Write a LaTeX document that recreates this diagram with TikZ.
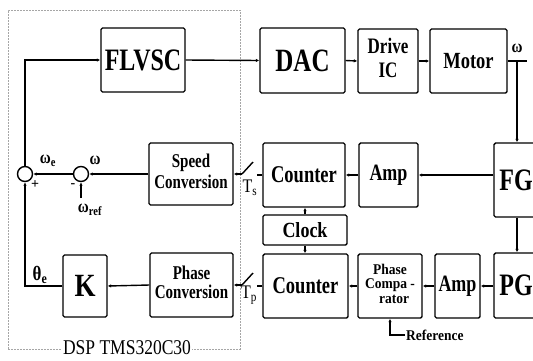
\documentclass[tikz,border=0pt]{standalone}
\usepackage{graphicx}
\usepackage{fontspec}
\setmainfont{Liberation Serif}
\usetikzlibrary{arrows.meta}
\newcommand{\vst}[2][1.3]{\scalebox{1}[#1]{#2}}
\begin{document}
\begin{tikzpicture}[x=1pt,y=-1pt,
  blk/.style={draw, line width=1.4pt, rounded corners=1.5pt, inner sep=0pt, font=\bfseries},
  ln/.style={line width=1.4pt},
  arr/.style={line width=1.4pt, -{Latex[length=3.5pt,width=3.5pt]}},
  sumj/.style={draw, line width=1.4pt, circle, minimum size=15pt, inner sep=0pt},
  lbl/.style={font=\bfseries, inner sep=0pt},
  frame/.style={gray!70, line width=0.6pt, dash pattern=on 2pt off 1pt}]
\useasboundingbox (0,0) rectangle (533,360);
\clip (0,0) rectangle (533,360);
% DSP frame
\draw[frame] (8,349) -- (8,10) -- (240,10) -- (240,349) -- cycle;
\node[fill=white, inner sep=1pt, font=\fontsize{17.5}{19}\selectfont] (dsp) at (127,348) {\vst[1.2]{DSP TMS320C30}};
% top row
\node[blk, minimum width=84pt, minimum height=64pt, font=\bfseries\fontsize{24}{26}\selectfont] (flv) at (143,60) {\vst{FLVSC}};
\node[blk, minimum width=85pt, minimum height=65pt, font=\bfseries\fontsize{25}{26}\selectfont] (dac) at (302.5,60.5) {\vst{DAC}};
\node[blk, minimum width=60pt, minimum height=64pt, font=\bfseries\fontsize{17}{18.5}\selectfont] (dic) at (388,61) {\vst{\begin{tabular}{@{}c@{}}Drive\\IC\end{tabular}}};
\node[blk, minimum width=77pt, minimum height=64pt, font=\bfseries\fontsize{18.5}{20}\selectfont] (mot) at (468.5,61) {\vst[1.25]{Motor}};
% middle row
\node[blk, minimum width=84pt, minimum height=62pt, font=\bfseries\fontsize{15}{16}\selectfont] (sc) at (191,174) {\vst{\begin{tabular}{@{}c@{}}Speed\\Conversion\end{tabular}}};
\node[blk, minimum width=82pt, minimum height=64pt, font=\bfseries\fontsize{18.5}{20}\selectfont] (cnt1) at (304,175) {\vst{Counter}};
\node[blk, minimum width=59pt, minimum height=64pt, font=\bfseries\fontsize{18}{20}\selectfont] (amp1) at (388.5,175) {\vst{Amp}};
\node[blk, minimum width=44pt, minimum height=74pt, font=\bfseries\fontsize{24}{26}\selectfont] (fg) at (516,180) {\vst{FG}};
\node[blk, minimum width=84pt, minimum height=30pt, font=\bfseries\fontsize{18}{20}\selectfont] (clk) at (305,230) {\vst[1.2]{Clock}};
% bottom row
\node[blk, minimum width=44pt, minimum height=62pt, font=\bfseries\fontsize{27}{28}\selectfont] (k) at (85,286) {\vst[1.2]{K}};
\node[blk, minimum width=83pt, minimum height=64pt, font=\bfseries\fontsize{15}{14.6}\selectfont] (phc) at (191.5,285) {\vst{\begin{tabular}{@{}c@{}}Phase\\Conversion\end{tabular}}};
\node[blk, minimum width=85pt, minimum height=64pt, font=\bfseries\fontsize{18.5}{20}\selectfont] (cnt2) at (305.5,286) {\vst{Counter}};
\node[blk, minimum width=64pt, minimum height=64pt, font=\bfseries\fontsize{13.5}{13.6}\selectfont] (pc) at (390,286) {\vst[1.1]{\begin{tabular}{@{}c@{}}Phase\\Compa -\\\hspace*{8pt}rator\end{tabular}}};
\node[blk, minimum width=45pt, minimum height=64pt, font=\bfseries\fontsize{18}{20}\selectfont] (amp2) at (457.5,286) {\vst{Amp}};
\node[blk, minimum width=44pt, minimum height=65pt, font=\bfseries\fontsize{24}{26}\selectfont] (pg) at (516,285.5) {\vst{PG}};
% summing junctions
\node[sumj] (j1) at (25,174) {};
\node[sumj] (j2) at (81,174) {};
% coordinates
\coordinate (tap) at (517,61);
\coordinate (wout) at (527,61);
\coordinate (wr) at (81,198);
\coordinate (ref) at (405,335);
\coordinate (s1a) at (242,174);
\coordinate (s1b) at (253,162);
\coordinate (s1c) at (257,175);
\coordinate (s2a) at (242,285);
\coordinate (s2b) at (253,273);
\coordinate (s2c) at (257,286);
% connectors top
\draw[arr] (j1.north) -- (j1.north |- flv.west) -- (flv.west);
\draw[arr] (flv.east) -- (dac.west);
\draw[arr] (dac.east) -- (dic.west);
\draw[arr] (dic.east) -- (mot.west);
\draw[ln] (mot.east) -- (wout);
\draw[arr] (tap) -- (tap |- fg.north);
\draw[arr] (tap |- fg.south) -- (tap |- pg.north);
% middle
\draw[arr] (fg.west |- amp1.east) -- (amp1.east);
\draw[arr] (amp1.west) -- (cnt1.east);
\draw[arr] (clk.north) -- (clk.north |- cnt1.south);
\draw[arr] (clk.south) -- (clk.south |- cnt2.north);
\draw[ln] (cnt1.west) -- (s1c);
\draw[ln] (s1a) -- (s1b);
\draw[arr] (s1a) -- (sc.east);
\draw[arr] (sc.west) -- (j2.east);
\draw[arr] (j2.west) -- (j1.east);
\draw[arr] (wr) -- (j2.south);
% bottom
\draw[arr] (pg.west |- amp2.east) -- (amp2.east);
\draw[arr] (amp2.west) -- (pc.east);
\draw[arr] (pc.west) -- (cnt2.east);
\draw[arr] (ref) -| (pc.south);
\draw[ln] (cnt2.west |- s2c) -- (s2c);
\draw[ln] (s2a) -- (s2b);
\draw[arr] (s2a) -- (phc.east);
\draw[arr] (phc.west) -- (k.east);
\draw[arr] (k.west) -| (j1.south);
% labels
\node[lbl, anchor=west, font=\bfseries\fontsize{13.5}{14}\selectfont] (reft) at ([xshift=1pt]ref) {\vst[1.1]{Reference}};
\node[lbl, font=\bfseries\fontsize{15}{16}\selectfont] (lwe) at (48,161) {\vst[1.2]{ω\textsubscript{e}}};
\node[lbl, font=\bfseries\fontsize{15}{16}\selectfont] (lw) at (95,160) {\vst[1.2]{ω}};
\node[lbl, font=\bfseries\fontsize{14}{16}\selectfont] (lplus) at (35,185) {+};
\node[lbl, font=\bfseries\fontsize{14}{16}\selectfont] (lminus) at (73,186) {-};
\node[lbl, font=\bfseries\fontsize{15}{16}\selectfont] (lwr) at (90,210) {\vst[1.2]{ω\textsubscript{ref}}};
\node[lbl, font=\bfseries\fontsize{17}{18}\selectfont] (lte) at (40,275) {\vst[1.2]{θ\textsubscript{e}}};
\node[lbl, font=\bfseries\fontsize{15}{16}\selectfont] (lwo) at (517,48) {\vst[1.2]{ω}};
\node[lbl, font=\fontsize{16}{17}\selectfont] (lts) at (250,188) {\vst[1.2]{T\textsubscript{s}}};
\node[lbl, font=\fontsize{16}{17}\selectfont] (ltp) at (249,295) {\vst[1.2]{T\textsubscript{p}}};
\end{tikzpicture}
\end{document}
